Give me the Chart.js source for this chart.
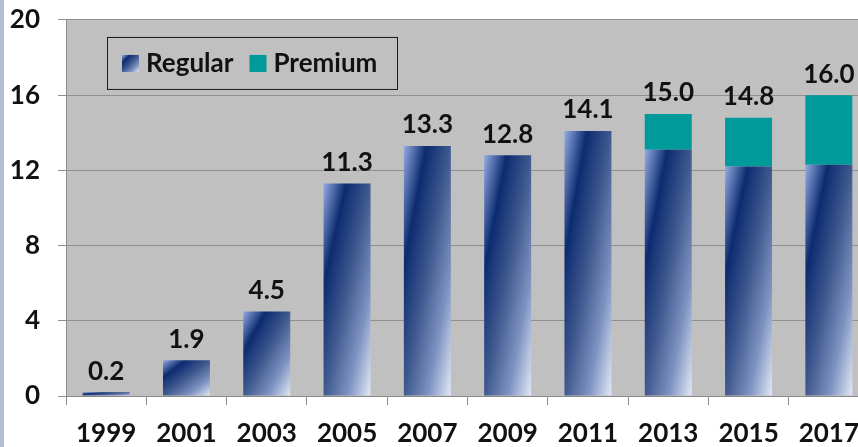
<!DOCTYPE html>
<html>
<head>
<meta charset="utf-8">
<script src="https://cdn.jsdelivr.net/npm/chart.js@4/dist/chart.umd.min.js"></script>
<style>
  body { margin: 0; overflow: hidden; background: #fff; }
  #wrap { position: relative; width: 880px; height: 447px; border-left: 4px solid #b3bed2; }
</style>
</head>
<body>
<div id="wrap"><canvas id="chart" width="880" height="447"></canvas></div>
<script>
const years = ["1999", "2001", "2003", "2005", "2007", "2009", "2011", "2013", "2015", "2017"];
const regular = [0.2, 1.9, 4.5, 11.3, 13.3, 12.8, 14.1, 13.1, 12.2, 12.3];
const premium = [null, null, null, null, null, null, null, 1.9, 2.6, 3.7];
const yTicks = [0, 4, 8, 12, 16, 20];

const FONT = "Lato, 'Open Sans', sans-serif";
const TEAL = "#009a9a";
const BAR_PCT = 0.585;

// gradient stretched over one bar: light corner, navy band, pale far corner
function barGradient(ctx, left, top, w, h) {
  const gx = 1 / w / 2;
  const gy = 1 / h / 2;
  const n = gx * gx + gy * gy;
  const g = ctx.createLinearGradient(left, top, left + gx / n, top + gy / n);
  g.addColorStop(0, "#93abe2");
  g.addColorStop(0.24, "#0c2b70");
  g.addColorStop(0.5, "#40598f");
  g.addColorStop(0.75, "#7d92c0");
  g.addColorStop(1, "#e2e9f7");
  return g;
}

function regularFill(context) {
  const chart = context.chart;
  const xs = chart.scales.x, ys = chart.scales.y;
  if (!chart.chartArea || !xs || !ys || context.dataIndex === undefined) return "#0c2b70";
  const i = context.dataIndex;
  const step = xs.getPixelForValue(1) - xs.getPixelForValue(0);
  const w = step * BAR_PCT;
  const left = xs.getPixelForValue(i) - w / 2;
  const top = ys.getPixelForValue(regular[i]);
  const h = Math.max(ys.getPixelForValue(0) - top, 1);
  return barGradient(chart.ctx, left, top, w, h);
}

// grey plot background
const plotBg = {
  id: "plotBg",
  beforeDraw(chart) {
    const { ctx, chartArea: a } = chart;
    ctx.save();
    ctx.fillStyle = "#c0c0c0";
    ctx.fillRect(a.left, a.top, a.right - a.left, a.bottom - a.top);
    ctx.restore();
  }
};

// totals above each stack
const totalLabels = {
  id: "totalLabels",
  afterDatasetsDraw(chart) {
    const { ctx } = chart;
    const xs = chart.scales.x, ys = chart.scales.y;
    ctx.save();
    ctx.font = "bold 26px " + FONT;
    ctx.fillStyle = "#111";
    ctx.textAlign = "center";
    ctx.textBaseline = "bottom";
    years.forEach((yr, i) => {
      const total = regular[i] + (premium[i] || 0);
      ctx.fillText(total.toFixed(1), xs.getPixelForValue(i), ys.getPixelForValue(total) - 8);
    });
    ctx.restore();
  }
};

// boxed legend inside the plot area
const boxLegend = {
  id: "boxLegend",
  afterDraw(chart) {
    const { ctx, chartArea: a } = chart;
    const left = a.left + 41, top = a.top + 17;
    ctx.save();
    ctx.strokeStyle = "#1a1a1a";
    ctx.lineWidth = 1;
    ctx.strokeRect(left + 0.5, top + 0.5, 290, 52);
    ctx.font = "bold 26px " + FONT;
    ctx.textBaseline = "middle";
    const midY = top + 26;
    let x = left + 15;
    chart.data.datasets.forEach((ds, k) => {
      ctx.fillStyle = k === 0 ? barGradient(ctx, x, midY - 8, 17, 17) : TEAL;
      ctx.fillRect(x, midY - 8, 17, 17);
      ctx.fillStyle = "#111";
      ctx.fillText(ds.label, x + 24, midY + 1);
      x += 24 + ctx.measureText(ds.label).width + 16;
    });
    ctx.restore();
  }
};

new Chart(document.getElementById("chart"), {
  type: "bar",
  data: {
    labels: years,
    datasets: [
      { label: "Regular", data: regular, backgroundColor: regularFill, borderWidth: 0 },
      { label: "Premium", data: premium, backgroundColor: TEAL, borderWidth: 0 }
    ]
  },
  options: {
    responsive: false,
    animation: false,
    layout: { padding: { top: 0, right: 15, left: 0, bottom: 0 } },
    datasets: { bar: { barPercentage: BAR_PCT, categoryPercentage: 1 } },
    plugins: { legend: { display: false }, tooltip: { enabled: false } },
    scales: {
      x: {
        stacked: true,
        afterFit(s) { s.height = 51; },
        grid: { offset: true, drawOnChartArea: false, tickLength: 9, color: "#8a8a8a" },
        border: { color: "#8a8a8a" },
        ticks: { font: { family: FONT, size: 26, weight: "bold" }, color: "#111", padding: 13, maxRotation: 0, autoSkip: false }
      },
      y: {
        stacked: true,
        min: yTicks[0],
        max: yTicks[yTicks.length - 1],
        afterFit(s) { s.width = 62; },
        afterBuildTicks(s) { s.ticks = yTicks.map(v => ({ value: v })); },
        grid: { color: "#8f8f8f", tickLength: 8 },
        border: { color: "#8a8a8a" },
        ticks: { font: { family: FONT, size: 26, weight: "bold", lineHeight: 0.15 }, color: "#111", padding: 18 }
      }
    }
  },
  plugins: [plotBg, totalLabels, boxLegend]
});
</script>
</body>
</html>
